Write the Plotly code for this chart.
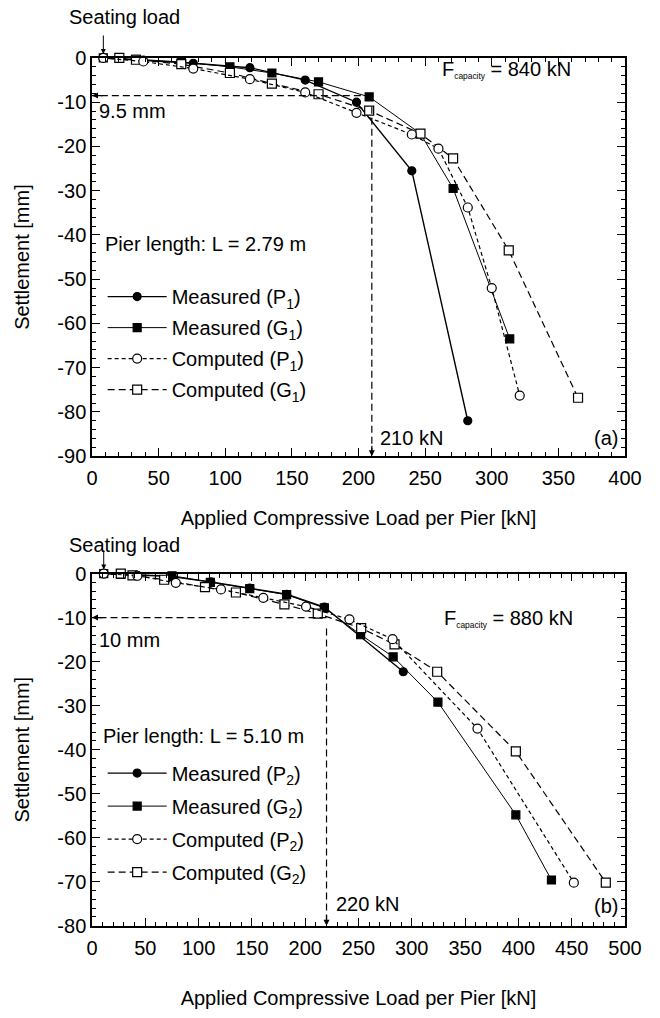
import plotly.graph_objects as go

# ---------------- data: panel (a) ----------------
mp1_x = [8.5, 38.5, 76, 118.5, 160, 198.5, 240, 282]
mp1_y = [0, -0.5, -1.2, -2.2, -5.0, -10.0, -25.5, -82.0]
mg1_x = [8.5, 33, 67, 103.5, 135, 170, 208, 246.5, 271, 313.5]
mg1_y = [0, -0.3, -0.9, -2.0, -3.4, -5.4, -8.8, -17.1, -29.5, -63.5]
cp1_x = [8.5, 38.5, 76, 118.5, 160, 198.5, 240, 260, 282, 300, 321]
cp1_y = [0, -0.8, -2.4, -4.8, -7.8, -12.4, -17.3, -20.5, -33.8, -52.0, -76.3]
cg1_x = [20.5, 33, 67, 103.5, 135, 170, 208, 246.5, 271, 312.75, 364.75]
cg1_y = [0, -0.4, -1.4, -3.4, -5.8, -8.2, -11.9, -17.1, -22.7, -43.5, -76.8]

# ---------------- data: panel (b) ----------------
mp2_x = [11, 42, 75, 111.5, 148, 182.6, 218, 292]
mp2_y = [0, -0.4, -0.7, -1.9, -3.3, -4.7, -7.6, -22.3]
mg2_x = [11, 27, 75, 111, 148, 182.6, 218, 252, 282.5, 324.5, 397.6, 431]
mg2_y = [0, -0.2, -0.5, -2.0, -3.4, -4.8, -7.8, -13.9, -18.9, -29.2, -54.8, -69.6]
cp2_x = [11, 42.6, 78.6, 121, 160.7, 200.8, 241.5, 282, 361.6, 452]
cp2_y = [0, -0.5, -2.1, -3.6, -5.5, -7.5, -10.4, -14.9, -35.2, -70.2]
cg2_x = [27, 38, 67.7, 106, 135, 180.5, 211.8, 252.5, 283.8, 323.8, 397.6, 482]
cg2_y = [0, -0.4, -1.4, -3.1, -4.3, -7.0, -9.1, -12.4, -16.1, -22.3, -40.4, -70.2]

# reference values
seat_a, seat_b = 8.5, 11
load_a, sett_a, sett_a_label = 210, -8.5, "9.5 mm"
load_b, sett_b, sett_b_label = 220, -10, "10 mm"

# ticks
xt_a = [0, 50, 100, 150, 200, 250, 300, 350, 400]
yt_a = [0, -10, -20, -30, -40, -50, -60, -70, -80, -90]
xt_b = [0, 50, 100, 150, 200, 250, 300, 350, 400, 450, 500]
yt_b = [0, -10, -20, -30, -40, -50, -60, -70, -80]
x_minor_step, y_minor_step = 10, 2

FONT = "Liberation Sans, Arial, sans-serif"
BLACK = "black"
FS = 20

fig = go.Figure()

def add_series(x, y, name, symbol, filled, dash, width, xa, ya, leg, rank):
    fig.add_trace(go.Scatter(
        x=x, y=y, mode="lines+markers", name=name,
        xaxis=xa, yaxis=ya, legend=leg, legendgroup=name, legendrank=rank,
        line=dict(color=BLACK, width=width, dash=dash),
        marker=dict(symbol=symbol, size=8 if filled else 9,
                    color=BLACK if filled else "white",
                    line=dict(color=BLACK, width=1.2)),
        cliponaxis=False,
    ))

# draw order: measured G, measured P, computed G, computed P (P circles on top)
add_series(mg1_x, mg1_y, "Measured (G<sub>1</sub>)", "square", True, "solid", 1.0, "x", "y", "legend", 2)
add_series(mp1_x, mp1_y, "Measured (P<sub>1</sub>)", "circle", True, "solid", 1.4, "x", "y", "legend", 1)
add_series(cg1_x, cg1_y, "Computed (G<sub>1</sub>)", "square", False, "7px,4px", 1.2, "x", "y", "legend", 4)
add_series(cp1_x, cp1_y, "Computed (P<sub>1</sub>)", "circle", False, "4px,3px", 1.2, "x", "y", "legend", 3)

add_series(mg2_x, mg2_y, "Measured (G<sub>2</sub>)", "square", True, "solid", 1.0, "x2", "y2", "legend2", 2)
add_series(mp2_x, mp2_y, "Measured (P<sub>2</sub>)", "circle", True, "solid", 1.4, "x2", "y2", "legend2", 1)
add_series(cg2_x, cg2_y, "Computed (G<sub>2</sub>)", "square", False, "7px,4px", 1.2, "x2", "y2", "legend2", 4)
add_series(cp2_x, cp2_y, "Computed (P<sub>2</sub>)", "circle", False, "4px,3px", 1.2, "x2", "y2", "legend2", 3)

# invisible traces so that the minor-tick overlay axes are drawn
fig.add_trace(go.Scatter(x=[None], y=[None], xaxis="x3", yaxis="y3", showlegend=False, hoverinfo="skip"))
fig.add_trace(go.Scatter(x=[None], y=[None], xaxis="x4", yaxis="y4", showlegend=False, hoverinfo="skip"))

def xaxis(rng, ticks, anchor, standoff):
    return dict(range=rng, tickvals=ticks, ticktext=[str(t) for t in ticks],
                showgrid=False, zeroline=False, showline=True, linecolor=BLACK,
                linewidth=1.5, mirror="allticks", ticks="inside", ticklen=8,
                tickwidth=1.4, tickcolor=BLACK, ticklabelstandoff=3,
                tickfont=dict(family=FONT, size=FS, color=BLACK),
                title=dict(text="Applied Compressive Load per Pier [kN]",
                           font=dict(family=FONT, size=FS, color=BLACK), standoff=standoff),
                anchor=anchor)

def yaxis(rng, ticks, domain, anchor):
    return dict(range=rng, tickvals=ticks, ticktext=[str(t) for t in ticks],
                domain=domain,
                showgrid=False, zeroline=False, showline=True, linecolor=BLACK,
                linewidth=1.5, mirror="allticks", ticks="inside", ticklen=8,
                tickwidth=1.4, tickcolor=BLACK,
                tickfont=dict(family=FONT, size=FS, color=BLACK),
                title=dict(text="Settlement [mm]",
                           font=dict(family=FONT, size=FS, color=BLACK), standoff=22),
                anchor=anchor)

def minor_x(rng, over, anchor):
    return dict(range=rng, overlaying=over, anchor=anchor, tickmode="linear",
                tick0=0, dtick=x_minor_step, ticks="inside", ticklen=4, tickwidth=1.2,
                tickcolor=BLACK, mirror="ticks", showticklabels=False,
                showgrid=False, zeroline=False, showline=False)

def minor_y(rng, over, anchor):
    return dict(range=rng, overlaying=over, anchor=anchor, tickmode="linear",
                tick0=0, dtick=y_minor_step, ticks="inside", ticklen=4, tickwidth=1.2,
                tickcolor=BLACK, mirror="ticks", showticklabels=False,
                showgrid=False, zeroline=False, showline=False)

H = 1018.0
W = 533.0
fig.update_layout(
    width=660, height=1018,
    margin=dict(l=92, r=35, t=0, b=0),
    paper_bgcolor="white", plot_bgcolor="white",
    font=dict(family=FONT, size=FS, color=BLACK),
    xaxis=xaxis([0, 400], xt_a, "y", 23),
    yaxis=yaxis([-90, 0], yt_a, [1 - 455 / H, 1 - 48 / H], "x"),
    xaxis2=xaxis([0, 500], xt_b, "y2", 33),
    yaxis2=yaxis([-80, 0], yt_b, [1 - 935 / H, 1 - 575 / H], "x2"),
    xaxis3=minor_x([0, 400], "x", "y"),
    yaxis3=minor_y([-90, 0], "y", "x"),
    xaxis4=minor_x([0, 500], "x2", "y2"),
    yaxis4=minor_y([-80, 0], "y2", "x2"),
    legend=dict(x=0.02, y=1 - 272 / H, xanchor="left", yanchor="top",
                bgcolor="rgba(0,0,0,0)", tracegroupgap=2, itemwidth=59,
                font=dict(family=FONT, size=FS, color=BLACK)),
    legend2=dict(x=0.02, y=1 - 759 / H, xanchor="left", yanchor="top",
                 bgcolor="rgba(0,0,0,0)", tracegroupgap=4, itemwidth=59,
                 font=dict(family=FONT, size=FS, color=BLACK)),
    showlegend=True,
)

# reference dashed lines
for xr, yr, ld, sv, lo in [("x", "y", load_a, sett_a, -90), ("x2", "y2", load_b, sett_b, -80)]:
    fig.add_shape(type="line", xref=xr, yref=yr, x0=ld, x1=0, y0=sv, y1=sv,
                  line=dict(color=BLACK, width=1.2, dash="7px,4px"))
    fig.add_shape(type="line", xref=xr, yref=yr, x0=ld, x1=ld, y0=sv - 2.5, y1=lo,
                  line=dict(color=BLACK, width=1.2, dash="7px,4px"))
    fig.add_annotation(xref=xr, yref=yr, x=0, y=sv, ax=12, ay=0, text="",
                       showarrow=True, arrowhead=2, arrowsize=1, arrowwidth=1.2,
                       arrowcolor=BLACK, axref="pixel", ayref="pixel")
    fig.add_annotation(xref=xr, yref=yr, x=ld, y=lo, ax=0, ay=-12, text="",
                       showarrow=True, arrowhead=2, arrowsize=1, arrowwidth=1.2,
                       arrowcolor=BLACK, axref="pixel", ayref="pixel")

def txt(xr, yr, x, y, s, xanchor="left", size=FS):
    fig.add_annotation(xref=xr, yref=yr, x=x, y=y, text=s, showarrow=False,
                       xanchor=xanchor, yanchor="middle",
                       font=dict(family=FONT, size=size, color=BLACK))

FCAP = "F<span style='font-size:12px'><sub>capacity</sub></span> = %d kN"

# panel (a) labels
fig.add_annotation(xref="x", yref="y", x=seat_a, y=0, ax=0, ay=-24, text="",
                   showarrow=True, arrowhead=2, arrowsize=1, arrowwidth=1,
                   arrowcolor=BLACK, axref="pixel", ayref="pixel", standoff=4)
txt("paper", "paper", (67 - 92) / W, 1 - 6 / H, "Seating load")
txt("x", "y", 4, -12, sett_a_label)
txt("x", "y", 8, -42, "Pier length: L = 2.79 m")
txt("x", "y", 261, -2.5, FCAP % 840)
txt("x", "y", load_a + 5, -86, "%d kN" % load_a)
txt("x", "y", 396, -86, "(a)", xanchor="right")

# panel (b) labels
fig.add_annotation(xref="x2", yref="y2", x=seat_b, y=0, ax=0, ay=-24, text="",
                   showarrow=True, arrowhead=2, arrowsize=1, arrowwidth=1,
                   arrowcolor=BLACK, axref="pixel", ayref="pixel", standoff=4)
txt("paper", "paper", (67 - 92) / W, 1 - 546 / H, "Seating load")
txt("x2", "y2", 5, -15, sett_b_label)
txt("x2", "y2", 8, -37, "Pier length: L = 5.10 m")
txt("x2", "y2", 328, -10.3, FCAP % 880)
txt("x2", "y2", load_b + 7, -75, "%d kN" % load_b)
txt("x2", "y2", 495, -75.5, "(b)", xanchor="right")

fig.write_html("out.html")
